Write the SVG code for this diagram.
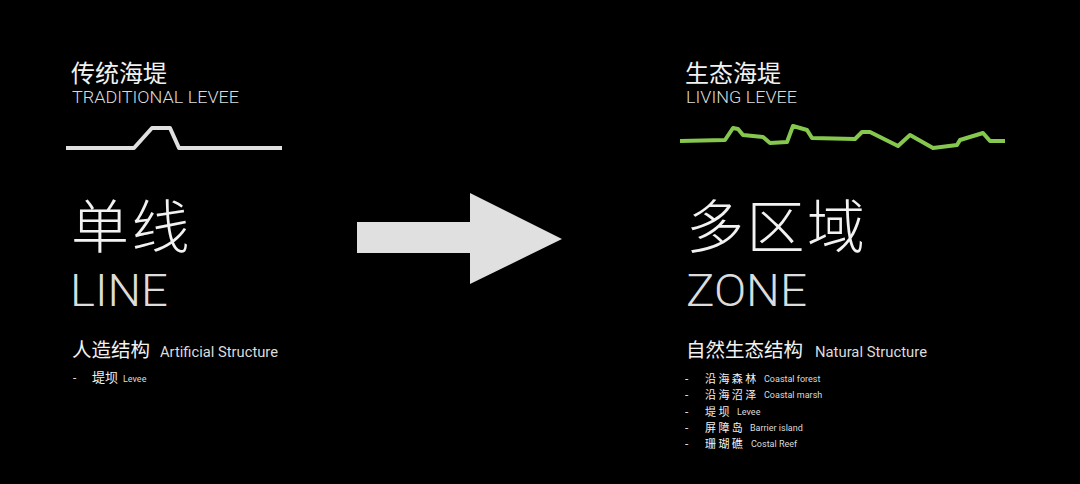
<svg xmlns="http://www.w3.org/2000/svg" width="1080" height="484" viewBox="0 0 1080 484">
<style>
.cjk{font-family:"Noto Sans CJK SC","Noto Sans",sans-serif;fill:#f2f2f2}
.lat{font-family:Roboto,"Noto Sans","Liberation Sans",sans-serif;fill:#dcdcdc}
.l{font-family:Roboto,"Noto Sans","Liberation Sans",sans-serif;fill:#dcdcdc}
.c{font-family:"Noto Sans CJK SC","Noto Sans",sans-serif;fill:#f2f2f2}
.li{font-family:"Noto Sans CJK SC","Noto Sans",sans-serif;fill:#f2f2f2;font-size:11px;letter-spacing:2.4px}
.big{font-weight:300}
.bigc{font-family:"Noto Sans CJK SC","Noto Sans",sans-serif;fill:#f2f2f2;font-weight:300;font-size:58px;letter-spacing:2.5px}
.levee{fill:none;stroke-linejoin:round;stroke-linecap:butt;stroke-width:4}
</style>
<rect width="1080" height="484" fill="#000"/>
<g id="traditional">
<text class="cjk" x="71" y="82" font-size="24">传统海堤</text>
<text class="lat" x="72" y="103" font-size="17" font-weight="300" textLength="167" lengthAdjust="spacingAndGlyphs">TRADITIONAL LEVEE</text>
<polyline class="levee" stroke="#e0e0e0" points="66,148 134,148 152,128 170,128 179,148 282,148"/>
<text class="bigc" x="71" y="248">单线</text>
<text class="lat big" x="70" y="306" font-size="44" textLength="98" lengthAdjust="spacingAndGlyphs">LINE</text>
<text class="cjk" x="72" y="357" font-size="19.5">人造结构</text>
<text class="lat" x="160" y="357" font-size="15" textLength="118" lengthAdjust="spacingAndGlyphs">Artificial Structure</text>
<text x="73" y="382"><tspan class="l" font-size="12">-</tspan><tspan class="c" x="92" font-size="13">堤坝</tspan><tspan class="l" x="123" font-size="9">Levee</tspan></text>
</g>
<g id="connectors">
<polygon id="arrow" fill="#e0e0e0" points="357,222 470,222 470,193 562,239 470,284 470,253 357,253"/>
</g>
<g id="living">
<text class="cjk" x="685" y="82" font-size="24">生态海堤</text>
<text class="lat" x="686" y="103" font-size="17" font-weight="300" textLength="111" lengthAdjust="spacingAndGlyphs">LIVING LEVEE</text>
<polyline class="levee" stroke="#86c84e" stroke-width="4.5" points="680,141 725,140 733,128 738,129 743,135 763,137 770,143 787,142 793,126 807,130 812,138 855,139 862,132 870,132 898,146 910,135 933,148 957,145 960,140 983,133 990,141 1005,141"/>
<text class="bigc" x="686" y="248">多区域</text>
<text class="lat big" x="686" y="306" font-size="44" textLength="121" lengthAdjust="spacingAndGlyphs">ZONE</text>
<text class="cjk" x="686" y="357" font-size="19.5">自然生态结构</text>
<text class="lat" x="815" y="357" font-size="15" textLength="112" lengthAdjust="spacingAndGlyphs">Natural Structure</text>
<text id="list"><tspan class="l" x="685" y="383" font-size="12">-</tspan><tspan class="li" x="705" y="383">沿海森林</tspan><tspan class="l" x="764" y="382" font-size="9">Coastal forest</tspan><tspan class="l" x="685" y="399.3" font-size="12">-</tspan><tspan class="li" x="705" y="399.3">沿海沼泽</tspan><tspan class="l" x="764" y="398.3" font-size="9">Coastal marsh</tspan><tspan class="l" x="685" y="415.6" font-size="12">-</tspan><tspan class="li" x="705" y="415.6">堤坝</tspan><tspan class="l" x="737" y="414.6" font-size="9">Levee</tspan><tspan class="l" x="685" y="431.9" font-size="12">-</tspan><tspan class="li" x="705" y="431.9">屏障岛</tspan><tspan class="l" x="750" y="430.9" font-size="9">Barrier island</tspan><tspan class="l" x="685" y="448.2" font-size="12">-</tspan><tspan class="li" x="705" y="448.2">珊瑚礁</tspan><tspan class="l" x="751" y="447.2" font-size="9">Costal Reef</tspan></text>
</g>
</svg>
